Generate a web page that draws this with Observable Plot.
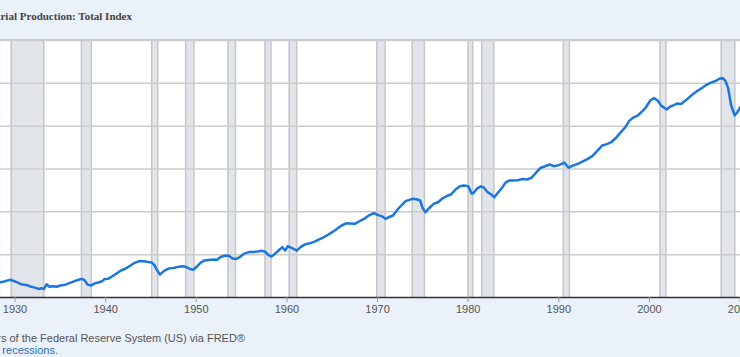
<!DOCTYPE html>
<html>
<head>
<meta charset="utf-8">
<script src="https://cdn.jsdelivr.net/npm/d3@7"></script>
<script src="https://cdn.jsdelivr.net/npm/@observablehq/plot@0.6"></script>
<style>
  html, body { margin: 0; padding: 0; overflow: hidden; background: #eaf1f9; }
  #wrap { position: relative; width: 740px; height: 357px; overflow: hidden; background: #eaf1f9; }
  #chart { position: absolute; left: 0; top: 0; }
  #header { position: absolute; left: 0; top: 0; width: 740px; height: 39px; border-bottom: 1px solid #cccccc; background: #eaf1f9; }
  .t { position: absolute; white-space: nowrap; }
  #title { right: 608px; top: 10px; font: bold 11px "Liberation Serif", "Times New Roman", serif; color: #444; line-height: 13px; }
  .cap { font: 11px "Liberation Sans", Arial, sans-serif; color: #555; line-height: 12px; }
  #cap1 { right: 495px; top: 332px; }
  #cap2 { right: 682px; top: 344px; }
  #cap2 span { color: #2f6db5; }
</style>
</head>
<body>
<div id="wrap">
  <div id="chart"></div>
  <div id="header"></div>
  <div id="title" class="t">Industrial Production: Total Index</div>
  <div id="cap1" class="t cap">Source: Board of Governors of the Federal Reserve System (US) via FRED®</div>
  <div id="cap2" class="t cap">Shaded areas indicate U.S. <span>recessions.</span></div>
</div>
<script>
const years = [
  1928.4, 1928.8, 1929.2, 1929.5, 1929.8, 1930.2, 1930.6, 1931.0, 1931.4, 1931.8,
  1932.2, 1932.6, 1932.9, 1933.2, 1933.5, 1933.8, 1934.2, 1934.6, 1935.0, 1935.5,
  1936.0, 1936.5, 1937.0, 1937.4, 1937.7, 1938.0, 1938.4, 1938.8, 1939.2, 1939.6,
  1939.9, 1940.3, 1940.7, 1941.2, 1941.7, 1942.2, 1942.7, 1943.2, 1943.7, 1944.2,
  1944.7, 1945.1, 1945.4, 1945.7, 1946.0, 1946.2, 1946.5, 1947.0, 1947.5, 1948.0,
  1948.5, 1948.9, 1949.3, 1949.7, 1950.1, 1950.5, 1950.9, 1951.4, 1951.9, 1952.3,
  1952.7, 1953.2, 1953.6, 1954.0, 1954.4, 1954.8, 1955.3, 1955.8, 1956.3, 1956.8,
  1957.2, 1957.6, 1957.9, 1958.3, 1958.7, 1959.2, 1959.5, 1959.8, 1960.1, 1960.5,
  1960.9, 1961.1, 1961.5, 1962.0, 1962.5, 1963.0, 1963.5, 1964.0, 1964.5, 1965.0,
  1965.5, 1966.0, 1966.6, 1967.0, 1967.5, 1968.0, 1968.5, 1969.0, 1969.6, 1970.0,
  1970.5, 1970.9, 1971.3, 1971.7, 1972.2, 1972.7, 1973.1, 1973.6, 1973.9, 1974.3,
  1974.7, 1975.0, 1975.3, 1975.7, 1976.2, 1976.7, 1977.2, 1977.7, 1978.1, 1978.6,
  1979.1, 1979.5, 1980.0, 1980.4, 1980.6, 1981.0, 1981.4, 1981.7, 1982.1, 1982.5,
  1982.9, 1983.3, 1983.7, 1984.1, 1984.5, 1985.0, 1985.5, 1986.0, 1986.5, 1987.0,
  1987.5, 1988.0, 1988.5, 1989.0, 1989.5, 1990.0, 1990.6, 1990.9, 1991.1, 1991.5,
  1992.1, 1992.6, 1993.2, 1993.7, 1994.3, 1994.8, 1995.3, 1995.8, 1996.3, 1996.8,
  1997.3, 1997.8, 1998.2, 1998.7, 1999.1, 1999.6, 2000.1, 2000.5, 2000.9, 2001.3,
  2001.9, 2002.3, 2002.7, 2003.1, 2003.5, 2003.9, 2004.4, 2004.9, 2005.3, 2005.8,
  2006.3, 2006.8, 2007.3, 2007.8, 2008.1, 2008.4, 2008.7, 2009.0, 2009.4, 2009.7,
  2010.1
];
const ipIndex = [
  7.1, 7.5, 8.0, 8.3, 7.8, 7.2, 6.3, 5.9, 5.7, 5.0,
  4.6, 4.0, 4.3, 4.0, 6.2, 5.0, 5.3, 5.0, 5.6, 5.9,
  6.7, 7.5, 8.3, 8.7, 8.0, 6.0, 5.6, 6.6, 7.0, 7.6,
  8.6, 8.8, 9.8, 11.2, 12.6, 13.5, 14.8, 16.2, 17.0, 16.9,
  16.6, 16.3, 15.0, 12.5, 10.7, 11.5, 12.5, 13.6, 13.8, 14.3,
  14.6, 14.2, 13.3, 13.0, 14.6, 16.3, 17.3, 17.5, 17.7, 17.6,
  18.9, 19.6, 19.5, 18.2, 18.0, 18.9, 20.5, 21.2, 21.3, 21.5,
  21.8, 21.4, 20.0, 19.1, 20.5, 22.4, 23.5, 21.9, 24.0, 23.2,
  22.4, 21.9, 23.5, 24.8, 25.3, 26.0, 27.0, 28.0, 29.2, 30.5,
  32.0, 33.5, 34.7, 34.6, 34.4, 35.6, 36.7, 38.2, 39.4, 38.6,
  37.9, 36.7, 37.6, 38.3, 41.0, 43.3, 45.0, 45.7, 46.1, 45.9,
  45.3, 41.5, 39.8, 41.8, 43.7, 44.6, 46.3, 47.5, 48.1, 50.4,
  52.0, 52.3, 52.0, 48.5, 48.8, 51.0, 51.9, 51.5, 49.4, 48.2,
  46.8, 49.0, 51.0, 53.5, 54.6, 54.6, 54.8, 55.3, 55.1, 56.0,
  58.3, 60.6, 61.3, 62.1, 61.3, 61.8, 63.0, 61.5, 60.6, 61.5,
  62.4, 63.4, 64.7, 66.0, 68.7, 71.0, 71.6, 72.6, 74.5, 77.0,
  79.3, 82.6, 84.0, 84.9, 86.5, 88.7, 92.0, 93.1, 92.0, 89.6,
  87.8, 89.2, 89.8, 90.6, 90.4, 91.7, 93.5, 95.3, 96.5, 97.8,
  99.3, 100.3, 101.1, 102.3, 102.4, 101.0, 97.5, 90.0, 85.0, 86.5,
  89.3
];
const recessionStart = [1929.58, 1937.33, 1945.08, 1948.83, 1953.5, 1957.58, 1960.25, 1969.92, 1973.83, 1980.0, 1981.5, 1990.5, 2001.17, 2007.92];
const recessionEnd   = [1933.17, 1938.42, 1945.75, 1949.75, 1954.33, 1958.25, 1961.08, 1970.83, 1975.17, 1980.5, 1982.83, 1991.17, 2001.83, 2009.42];
const xTicks = [1930, 1940, 1950, 1960, 1970, 1980, 1990, 2000, 2010];
const yGrid = [20, 40, 60, 80, 100, 120];

const data = years.map((y, i) => ({year: y, value: ipIndex[i]}));
const rec = recessionStart.map((s, i) => ({start: s, end: recessionEnd[i]}));

const chart = Plot.plot({
  width: 740,
  height: 357,
  marginTop: 40,
  marginBottom: 60,
  marginLeft: 0,
  marginRight: 0,
  style: {background: "transparent", fontFamily: "'Liberation Sans', Arial, sans-serif", fontSize: "11px"},
  x: {type: "linear", domain: [1928.4, 2010.05]},
  y: {domain: [0, 120], axis: null},
  marks: [
    Plot.frame({fill: "white", stroke: null}),
    Plot.rectX(rec, {x1: "start", x2: "end", fill: "#e1e5ea"}),
    Plot.ruleX(rec, {x: "start", stroke: "#c4c6c9", strokeWidth: 1.5}),
    Plot.ruleX(rec, {x: "end", stroke: "#c4c6c9", strokeWidth: 1.5}),
    Plot.gridY(yGrid, {stroke: "#cccccc", strokeOpacity: 1, strokeWidth: 1.5}),
    Plot.line(data, {x: "year", y: "value", stroke: "#1a77e0", strokeWidth: 2.5, clip: true}),
    Plot.ruleY([0], {stroke: "#333333", strokeWidth: 1.5}),
    Plot.axisX({ticks: xTicks, tickFormat: d => String(d), tickSize: 5, tickPadding: 3, stroke: "#999999", fill: "#555555", fontSize: 11})
  ]
});
document.getElementById("chart").appendChild(chart);
</script>
</body>
</html>
